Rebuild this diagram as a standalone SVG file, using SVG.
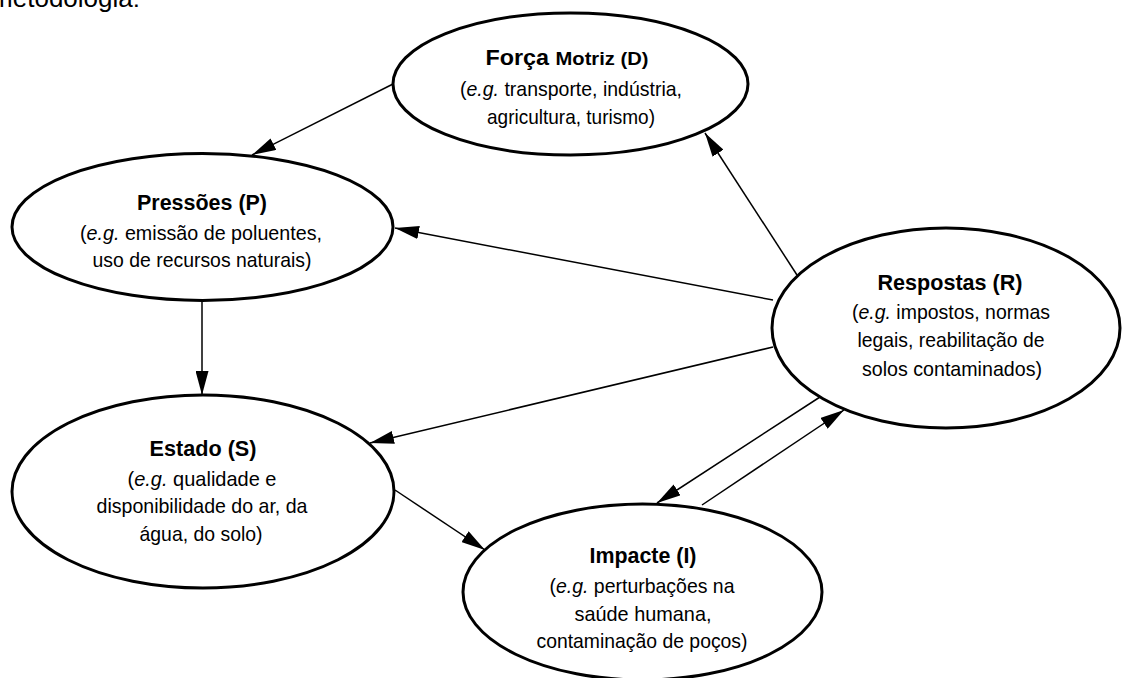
<svg xmlns="http://www.w3.org/2000/svg" width="1122" height="678" viewBox="0 0 1122 678">
<style>
.n ellipse{fill:#fff;stroke:#000;stroke-width:3}
text{font-family:"Liberation Sans Narrow","Liberation Sans",Arial,sans-serif;fill:#000;text-anchor:middle}
.t{font-weight:bold;font-size:22px}
.s{font-weight:bold;font-size:19px;font-family:"Liberation Sans",Arial,sans-serif}
.b{font-size:21px}
.i{font-style:italic}
.c line{stroke:#000;stroke-width:1.5;marker-end:url(#ah)}
</style>
<defs>
<marker id="ah" viewBox="0 0 24 13" refX="24" refY="6.5" markerWidth="24" markerHeight="13" markerUnits="userSpaceOnUse" orient="auto">
<path d="M0,0 L24,6.5 L0,13 Z" fill="#000"/>
</marker>
</defs>
<text x="140" y="7" style="text-anchor:end;font-size:26px;font-family:'Liberation Sans',Arial,sans-serif">metodologia:</text>
<g class="c">
<line x1="393" y1="84" x2="252" y2="155"/>
<line x1="797" y1="275" x2="705" y2="133"/>
<line x1="773" y1="300" x2="395" y2="228"/>
<line x1="202" y1="300" x2="202" y2="395"/>
<line x1="773" y1="347" x2="370" y2="443"/>
<line x1="395" y1="490" x2="485" y2="550"/>
<line x1="820" y1="397" x2="657" y2="503"/>
<line x1="702" y1="505" x2="844" y2="410"/>
</g>
<g id="D" class="n">
<ellipse cx="570.5" cy="84" rx="177.5" ry="71"/>
<text x="567" y="65" textLength="163" lengthAdjust="spacingAndGlyphs"><tspan class="t">Força </tspan><tspan class="s">Motriz (D)</tspan></text>
<text class="b" x="571" y="95.5" textLength="222" lengthAdjust="spacingAndGlyphs">(<tspan class="i">e.g.</tspan> transporte, indústria,</text>
<text class="b" x="571" y="123.5" textLength="168" lengthAdjust="spacingAndGlyphs">agricultura, turismo)</text>
</g>
<g id="P" class="n">
<ellipse cx="202.5" cy="227" rx="190.5" ry="73.5"/>
<text class="t" x="202" y="210" textLength="130" lengthAdjust="spacingAndGlyphs">Pressões (P)</text>
<text class="b" x="201" y="240" textLength="242" lengthAdjust="spacingAndGlyphs">(<tspan class="i">e.g.</tspan> emissão de poluentes,</text>
<text class="b" x="202" y="267" textLength="219" lengthAdjust="spacingAndGlyphs">uso de recursos naturais)</text>
</g>
<g id="R" class="n">
<ellipse cx="946" cy="328" rx="174" ry="100"/>
<text class="t" x="950" y="290" textLength="145" lengthAdjust="spacingAndGlyphs">Respostas (R)</text>
<text class="b" x="951" y="319" textLength="198" lengthAdjust="spacingAndGlyphs">(<tspan class="i">e.g.</tspan> impostos, normas</text>
<text class="b" x="951" y="347" textLength="187" lengthAdjust="spacingAndGlyphs">legais, reabilitação de</text>
<text class="b" x="952" y="376" textLength="180" lengthAdjust="spacingAndGlyphs">solos contaminados)</text>
</g>
<g id="S" class="n">
<ellipse cx="203" cy="491.5" rx="191" ry="96.5"/>
<text class="t" x="203" y="456" textLength="107" lengthAdjust="spacingAndGlyphs">Estado (S)</text>
<text class="b" x="202" y="486" textLength="149" lengthAdjust="spacingAndGlyphs">(<tspan class="i">e.g.</tspan> qualidade e</text>
<text class="b" x="202" y="513" textLength="211" lengthAdjust="spacingAndGlyphs">disponibilidade do ar, da</text>
<text class="b" x="201" y="541" textLength="123" lengthAdjust="spacingAndGlyphs">água, do solo)</text>
</g>
<g id="I" class="n">
<ellipse cx="642.5" cy="592" rx="179.5" ry="88"/>
<text class="t" x="643" y="563" textLength="107" lengthAdjust="spacingAndGlyphs">Impacte (I)</text>
<text class="b" x="642" y="593" textLength="185" lengthAdjust="spacingAndGlyphs">(<tspan class="i">e.g.</tspan> perturbações na</text>
<text class="b" x="643" y="621" textLength="137" lengthAdjust="spacingAndGlyphs">saúde humana,</text>
<text class="b" x="642" y="648" textLength="211" lengthAdjust="spacingAndGlyphs">contaminação de poços)</text>
</g>
</svg>
